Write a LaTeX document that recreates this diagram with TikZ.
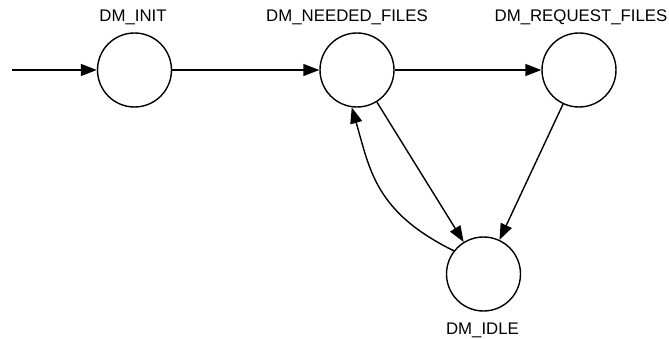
\documentclass[tikz,border=0pt]{standalone}
\usepackage{fontspec}
\setmainfont{Liberation Sans}
\usetikzlibrary{arrows.meta}
\begin{document}
\begin{tikzpicture}[x=1pt,y=-1pt,
  state/.style={circle,draw=black,line width=1.4pt,minimum size=74pt,inner sep=0pt},
  lbl/.style={anchor=base,inner sep=0pt,font=\fontsize{16.8}{20}\selectfont},
  conn/.style={line width=1.4pt,-{Triangle[length=16pt,width=12pt]}}]
\useasboundingbox (0,0) rectangle (669,339);
\node[state] (init) at (134.5,70) {};
\node[state] (need) at (357,70) {};
\node[state] (req) at (579,70) {};
\node[state] (idle) at (483.5,274) {};
\node[lbl] (linit) at (133,22) {DM\_INIT};
\node[lbl] (lneed) at (347,22) {DM\_NEEDED\_FILES};
\node[lbl] (lreq) at (581,22) {DM\_REQUEST\_FILES};
\node[lbl] (lidle) at (482.5,334.5) {DM\_IDLE};
\coordinate (start) at (12,70);
\draw[conn] (start) -- (init);
\draw[conn] (init) -- (need);
\draw[conn] (need) -- (req);
\draw[conn] (need) -- (idle);
\draw[conn] (req) -- (idle);
\draw[conn] (idle.142) .. controls (375,212) and (370,170) .. (need.262);
\end{tikzpicture}
\end{document}
